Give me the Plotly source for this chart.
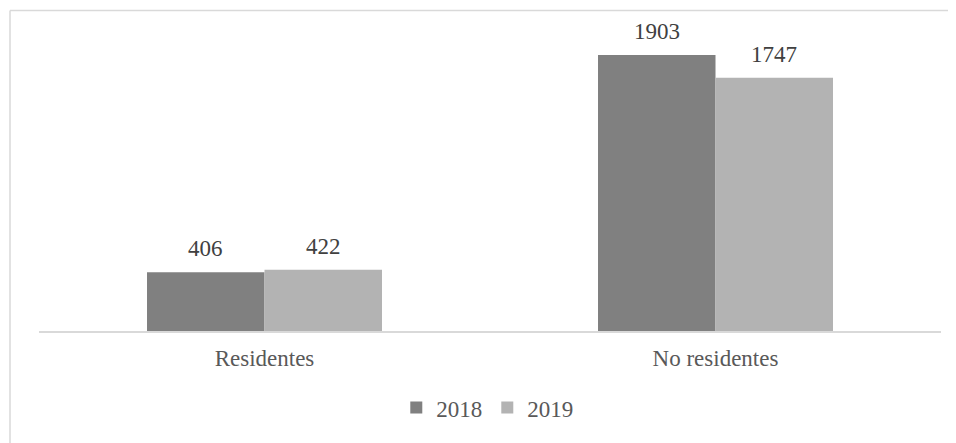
import plotly.graph_objects as go

categories = ["Residentes", "No residentes"]
series_names = ["2018", "2019"]
values_2018 = [406, 1903]
values_2019 = [422, 1747]
colors = ["#808080", "#b3b3b3"]

# page body has an 8px margin, so the figure is drawn 8px smaller
W, H = 948, 435
L, R, T, B = 31, 15, 33, 112
SERIF = "Liberation Serif"

pw = W - L - R
ph = H - T - B
bar_w = pw / 2 * (1 - 0.479) / 2

fig = go.Figure()
for i, (name, vals, col) in enumerate(zip(series_names, [values_2018, values_2019], colors)):
    fig.add_trace(go.Bar(
        x=categories, y=vals, name=name,
        marker=dict(color=col, line=dict(width=0)),
    ))
    for c, v in zip(categories, vals):
        fig.add_annotation(x=c, y=v, text=str(v), showarrow=False,
                           xshift=(i - 0.5) * bar_w, yshift=9, yanchor="bottom",
                           font=dict(family=SERIF, size=23, color="#404040"))

# outer chart border: only left and top edges are inside the picture
bx = (2 - L) / pw
by = (H - B - 2.5) / ph
fig.add_shape(type="line", xref="paper", yref="paper", x0=bx, x1=bx, y0=(H - B - H) / ph, y1=by,
              line=dict(color="#d9d9d9", width=1.5), layer="below")
fig.add_shape(type="line", xref="paper", yref="paper", x0=bx, x1=(W - L) / pw, y0=by, y1=by,
              line=dict(color="#d9d9d9", width=1.5), layer="below")

fig.update_layout(
    width=W, height=H,
    margin=dict(l=L, r=R, t=T, b=B),
    paper_bgcolor="white", plot_bgcolor="white",
    barmode="group", bargap=0.479, bargroupgap=0,
    font=dict(family=SERIF, size=23, color="#595959"),
    showlegend=True,
    legend=dict(orientation="h", x=0.497, xanchor="center", y=-0.19, yanchor="top",
                font=dict(family=SERIF, size=23, color="#595959"), itemwidth=30, tracegroupgap=0),
    xaxis=dict(type="category", showline=True, linecolor="#d9d9d9", linewidth=1.5,
               ticks="", showgrid=False, tickfont=dict(family=SERIF, size=23, color="#595959"),
               ticklabelstandoff=6),
    yaxis=dict(range=[0, 2000], visible=False, showgrid=False, zeroline=False),
)

fig.write_html("out.html")
